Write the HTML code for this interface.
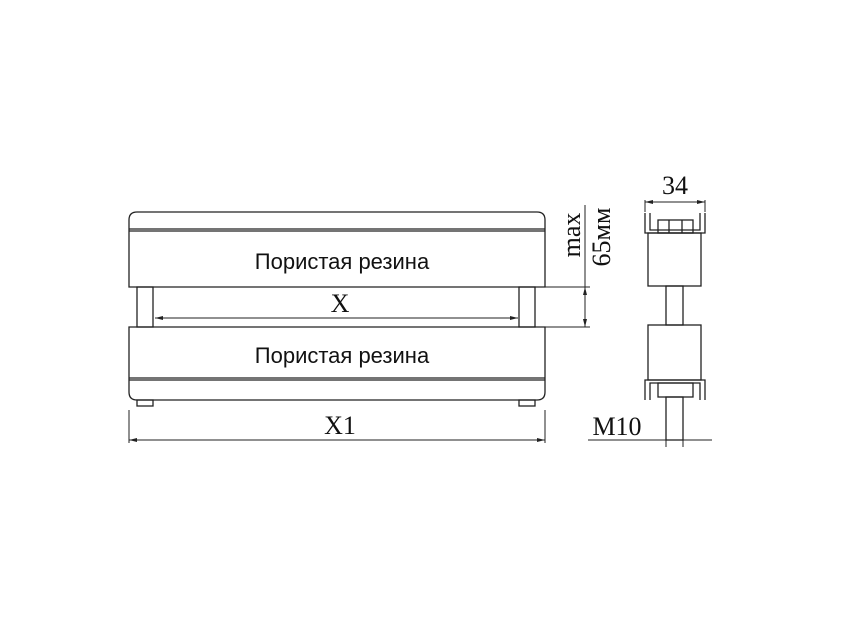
<!DOCTYPE html>
<html><head><meta charset="utf-8"><style>body{margin:0;background:#fff}</style></head><body>
<svg width="858" height="638" xmlns="http://www.w3.org/2000/svg" style="display:block">
<g fill="none" stroke="#222" stroke-width="1.3">
<path d="M129,287 V220 Q129,212 137,212 H537 Q545,212 545,220 V287 Z"/>
<line x1="129" y1="229" x2="545" y2="229" stroke-width="1.2"/>
<line x1="129" y1="231" x2="545" y2="231" stroke-width="1.2"/>
<rect x="137" y="287" width="16" height="40"/>
<rect x="519" y="287" width="16" height="40"/>
<path d="M129,327 V392 Q129,400 137,400 H537 Q545,400 545,392 V327 Z"/>
<line x1="129" y1="378" x2="545" y2="378" stroke-width="1.2"/>
<line x1="129" y1="380" x2="545" y2="380" stroke-width="1.2"/>
<rect x="137" y="400" width="16" height="6"/>
<rect x="519" y="400" width="16" height="6"/>
<g stroke-width="1">
<line x1="155" y1="318" x2="518" y2="318"/>
<line x1="129" y1="410" x2="129" y2="443"/>
<line x1="545" y1="410" x2="545" y2="443"/>
<line x1="129" y1="440" x2="545" y2="440"/>
<line x1="585" y1="205" x2="585" y2="327"/>
<line x1="545" y1="287" x2="590" y2="287"/>
<line x1="545" y1="327" x2="590" y2="327"/>
<line x1="645" y1="200" x2="645" y2="212"/>
<line x1="705" y1="200" x2="705" y2="212"/>
<line x1="645" y1="202" x2="705" y2="202"/>
<line x1="588" y1="440" x2="712" y2="440"/>
<line x1="666" y1="440" x2="666" y2="447"/>
<line x1="683" y1="440" x2="683" y2="447"/>
</g>
<rect x="648" y="233" width="53" height="53"/>
<rect x="666" y="286" width="17" height="39"/>
<rect x="648" y="325" width="53" height="55"/>
<rect x="658" y="220" width="35" height="13"/>
<line x1="669" y1="220" x2="669" y2="233"/><line x1="682" y1="220" x2="682" y2="233"/>
<path d="M645,213 V233 H705 V213 M650,213 V230 H700 V213"/>
<path d="M645,400 V380 H705 V400 M650,400 V383 H700 V400"/>
<rect x="658" y="383" width="35" height="14"/>
<rect x="666" y="397" width="17" height="43"/>
</g>
<g fill="#222">
<path d="M155,318 l8,-2 v4z M518,318 l-8,-2 v4z M129,440 l8,-2 v4z M545,440 l-8,-2 v4z M585,287 l-2,8 h4z M585,327 l-2,-8 h4z M645,202 l8,-2 v4z M705,202 l-8,-2 v4z"/>
</g>
<g font-family="Liberation Sans, sans-serif" font-size="22" fill="#111" text-anchor="middle">
<text x="342" y="269">Пористая резина</text>
<text x="342" y="363">Пористая резина</text>
</g>
<g font-family="Liberation Serif, serif" font-size="26" fill="#111" text-anchor="middle">
<text x="340" y="312">X</text>
<text x="340" y="434">X1</text>
<text x="675" y="194">34</text>
<text x="617" y="435">M10</text>
<text transform="translate(580,235) rotate(-90)">max</text>
<text transform="translate(610,237) rotate(-90)">65мм</text>
</g>
</svg>
</body></html>
